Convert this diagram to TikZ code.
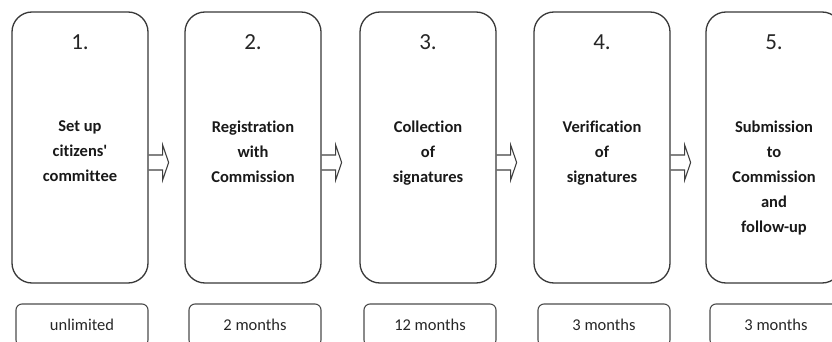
\documentclass[tikz,border=0pt]{standalone}
\usepackage{fontspec}
\setmainfont{Carlito}[Ligatures={TeXOff,CommonOff}]
\begin{document}
\begin{tikzpicture}[x=1pt,y=-1pt,
  bigbox/.style={draw=black!78, line width=1.3pt, rounded corners=20pt,
    minimum width=136pt, minimum height=271pt, inner sep=0pt},
  numtxt/.style={font=\fontsize{23}{26}\selectfont, text=black!85, inner sep=0pt},
  steptxt/.style={font=\bfseries\fontsize{16.5}{25}\selectfont, align=center, text=black!90, inner sep=0pt, anchor=north},
  durbox/.style={draw=black!70, line width=1.1pt, rounded corners=6pt,
    minimum width=132pt, minimum height=42pt, inner sep=0pt,
    font=\fontsize{16.5}{18}\selectfont, text=black!85},
  fatarrow/.style={draw=black!75, line width=1.1pt, line join=miter}
]
\useasboundingbox (0,0) rectangle (832,342);

\foreach \i/\cx/\txt/\dur in {
  1/80/{Set up\\citizens'\\committee}/unlimited,
  2/253/{Registration\\with\\Commission}/2 months,
  3/428/{Collection\\of\\signatures}/12 months,
  4/602/{Verification\\of\\signatures}/3 months,
  5/774/{Submission\\to\\Commission\\and\\follow-up}/3 months}{
  \node[bigbox] (b\i) at (\cx,147.5) {};
  \node[numtxt] (n\i) at (\cx,42) {\i.};
  \node[steptxt] (t\i) at (\cx,120.5) {\txt};
  \node[durbox] (d\i) at (\cx+2,325) {\dur};
}

\foreach \i in {1,2,3,4}{
  \coordinate (a\i) at ([yshift=-15pt]b\i.east);
  \draw[fatarrow] ([yshift=7.5pt]a\i) -- ++(14,0) -- ++(0,-10) -- ++(6,17.5)
    -- ++(-6,17.5) -- ++(0,-10) -- ++(-14,0);
}
\end{tikzpicture}
\end{document}
